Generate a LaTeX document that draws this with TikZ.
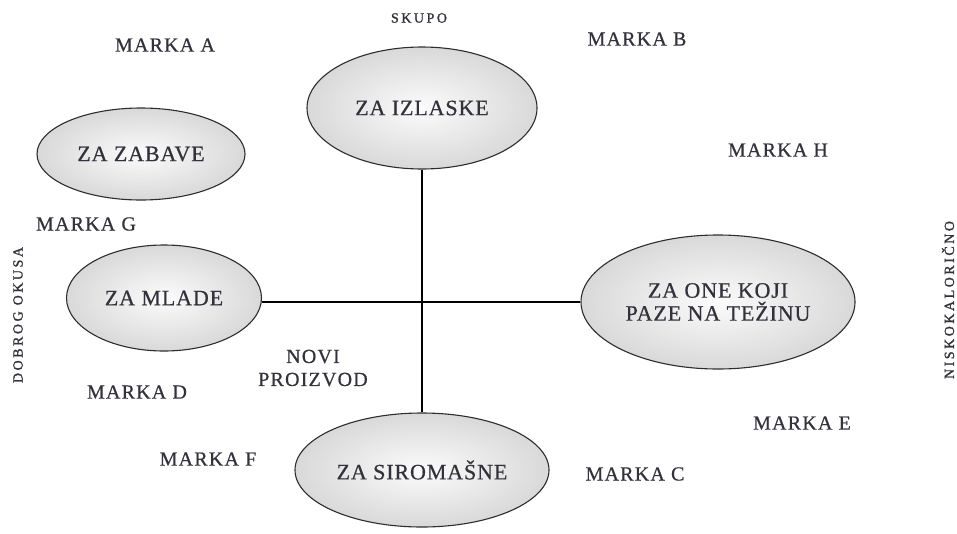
\documentclass[tikz,border=0pt]{standalone}
\usepackage{fontspec}
\setmainfont{Liberation Serif}
\newfontfamily\lblfont[LetterSpace=6,FakeBold=0.6]{Liberation Serif}
\newfontfamily\bubfont[LetterSpace=4,FakeBold=0.6]{Liberation Serif}
\newfontfamily\smallfont[LetterSpace=18,FakeBold=1.4]{Liberation Serif}
\usetikzlibrary{shapes.geometric}
\definecolor{txt}{RGB}{50,50,60}
\definecolor{rim}{RGB}{45,45,45}
\tikzset{
  bubble/.style={ellipse, draw=rim, line width=1.1pt, inner sep=0pt,
    shading=radial, inner color=white!97!gray, outer color=gray!30,
    text=txt, font=\bubfont\fontsize{22}{23}\selectfont, align=center},
  marka/.style={text=txt, font=\lblfont\fontsize{20}{23}\selectfont, inner sep=0pt, align=center},
  axislbl/.style={text=txt, font=\smallfont\fontsize{14}{15}\selectfont, inner sep=0pt},
  axis/.style={draw=black, line width=1.4pt}
}
\begin{document}
\begin{tikzpicture}[x=1pt,y=-1pt]
\useasboundingbox (0,0) rectangle (957,533);
\node[bubble, minimum width=230pt, minimum height=122pt] (izl) at (422,108) {ZA IZLASKE};
\node[bubble, minimum width=254pt, minimum height=114pt] (sir) at (422,470) {ZA SIROMAŠNE};
\node[bubble, minimum width=195pt, minimum height=106pt] (mla) at (164,298) {ZA MLADE};
\node[bubble, minimum width=274pt, minimum height=134pt] (one) at (718,302) {ZA ONE KOJI\\PAZE NA TEŽINU};
\node[bubble, minimum width=208pt, minimum height=92pt] (zab) at (141,154) {ZA ZABAVE};
\draw[axis] (izl.south) -- (sir.north);
\draw[axis] (one.west) -- (one.west -| mla.east);
% labels
\node[axislbl] (skupo) at (419,18) {SKUPO};
\node[axislbl, rotate=90] (dobrog) at (18,315) {DOBROG OKUSA};
\node[axislbl, rotate=90] (nisko) at (948,300) {NISKOKALORIČNO};
\node[marka] (ma) at (165,45) {MARKA A};
\node[marka] (mb) at (637,39) {MARKA B};
\node[marka] (mh) at (778,150) {MARKA H};
\node[marka] (mg) at (86,224) {MARKA G};
\node[marka] (md) at (137,392) {MARKA D};
\node[marka] (me) at (802,423) {MARKA E};
\node[marka] (mf) at (208,459) {MARKA F};
\node[marka] (mc) at (635,474) {MARKA C};
\node[marka] (novi) at (313,368) {NOVI\\PROIZVOD};
\end{tikzpicture}
\end{document}
